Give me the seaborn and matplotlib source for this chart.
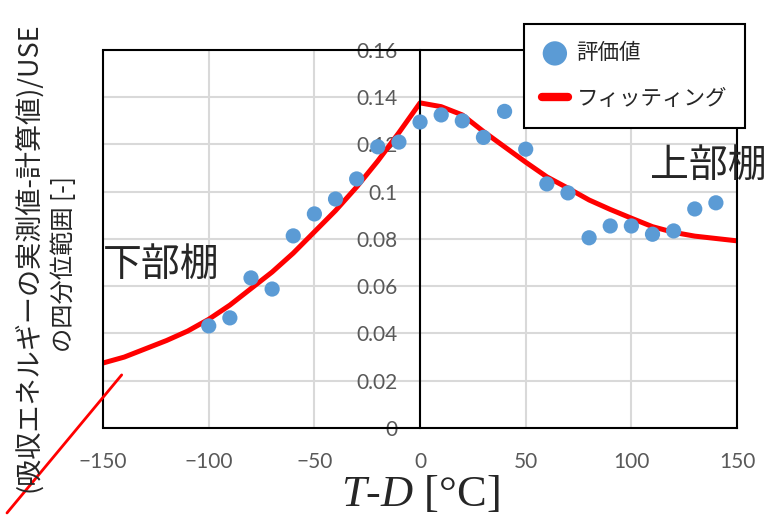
import matplotlib
matplotlib.use("Agg")
import matplotlib.pyplot as plt
import seaborn as sns
import pandas as pd
from matplotlib.lines import Line2D
from matplotlib.ticker import FuncFormatter

# 評価値 (points)
pt_x = [-100, -90, -80, -70, -60, -50, -40, -30, -20, -10, 0, 10, 20, 30, 40,
        50, 60, 70, 80, 90, 100, 110, 120, 130, 140]
pt_y = [0.0432, 0.0466, 0.0635, 0.0588, 0.0813, 0.0906, 0.0969, 0.1054, 0.119,
        0.121, 0.1295, 0.1325, 0.130, 0.123, 0.134, 0.118, 0.1033, 0.0995,
        0.0805, 0.0855, 0.0855, 0.082, 0.0834, 0.0927, 0.0953]

# フィッティング (curve)
fit_x = [-150, -140, -130, -120, -110, -100, -90, -80, -70, -60, -50, -40, -30,
         -20, -10, 0, 10, 20, 30, 40, 50, 60, 70, 80, 90, 100, 110, 120, 130,
         140, 150]
fit_y = [0.0275, 0.030, 0.0335, 0.037, 0.041, 0.046, 0.052, 0.059, 0.066,
         0.074, 0.083, 0.092, 0.102, 0.113, 0.125, 0.1376, 0.136, 0.1325,
         0.1255, 0.119, 0.1125, 0.1063, 0.1015, 0.0965, 0.0925, 0.0888,
         0.0852, 0.0828, 0.0812, 0.0802, 0.0792]

x_ticks = [-150, -100, -50, 0, 50, 100, 150]
y_ticks = [0, 0.02, 0.04, 0.06, 0.08, 0.10, 0.12, 0.14, 0.16]

df_pts = pd.DataFrame({"x": pt_x, "y": pt_y})
df_fit = pd.DataFrame({"x": fit_x, "y": fit_y})

sns.set_style("white")
plt.rcParams['font.family'] = ['Noto Sans CJK JP', 'DejaVu Sans']
plt.rcParams['mathtext.fontset'] = 'custom'
plt.rcParams['mathtext.it'] = 'Liberation Serif:italic'
plt.rcParams['mathtext.rm'] = 'Liberation Serif'

fig = plt.figure(figsize=(7.75, 5.15), dpi=100)
ax = fig.add_axes([0.133, 0.169, 0.818, 0.734])

sns.lineplot(data=df_fit, x="x", y="y", ax=ax, color="#FF0000", linewidth=3.6,
             label="フィッティング", zorder=2)
sns.scatterplot(data=df_pts, x="x", y="y", ax=ax, color="#5B9BD5", s=120,
                edgecolor="none", label="評価値", zorder=3)

ax.set_xlim(-150, 150)
ax.set_ylim(0, 0.16)
ax.set_xticks(x_ticks)
ax.set_yticks(y_ticks)
ax.yaxis.set_major_formatter(FuncFormatter(lambda v, p: f"{v:g}"))
ax.grid(True, color="#D9D9D9", linewidth=1.5)
ax.set_axisbelow(True)
ax.set_xlabel("")
ax.set_ylabel("")

# y axis sits at x = 0, outer frame kept as a box
ax.spines['left'].set_position(('data', 0))
for sp in ax.spines.values():
    sp.set_color("black")
    sp.set_linewidth(1.5)
ax.axvline(-150, color="black", linewidth=1.5, clip_on=False, zorder=2.5)

ax.tick_params(axis="x", length=0, pad=17, labelsize=15, labelcolor="#595959",
               labelfontfamily="Lato")
ax.tick_params(axis="y", length=0, pad=16, labelsize=15, labelcolor="#595959",
               labelfontfamily="Lato")

ax.text(-150, 0.069, "下部棚", fontsize=28, va="center", ha="left")
ax.text(109, 0.111, "上部棚", fontsize=28, va="center", ha="left")

fig.text(0.036, 0.501, "(吸収エネルギーの実測値-計算値)/USE", rotation=90,
         fontsize=19.5, ha="center", va="center")
fig.text(0.083, 0.487, "の四分位範囲 [-]", rotation=90,
         fontsize=17.5, ha="center", va="center")
fig.text(0.542, 0.04, "$T$-$D$ [°C]", fontsize=32, family="Liberation Serif",
         ha="center", va="center")

handles, labels = ax.get_legend_handles_labels()
order = [labels.index("評価値"), labels.index("フィッティング")]
leg = ax.legend([handles[i] for i in order], [labels[i] for i in order],
                loc="upper right", bbox_to_anchor=(0.961, 0.953),
                bbox_transform=fig.transFigure, borderaxespad=0,
                fontsize=15.5, frameon=True, fancybox=False, framealpha=1,
                edgecolor="black", markerscale=1.6, handlelength=1.2,
                handletextpad=0.4, borderpad=0.83, labelspacing=1.1)
leg.get_frame().set_linewidth(1.5)
leg.legend_handles[1].set_linewidth(6)
leg.set_zorder(5)

# stray red stroke at lower left of the original
fig.add_artist(Line2D([0.009, 0.157], [0.004, 0.272], color="#FF0000",
                      linewidth=2, transform=fig.transFigure))

fig.savefig("out.png", dpi=100)
